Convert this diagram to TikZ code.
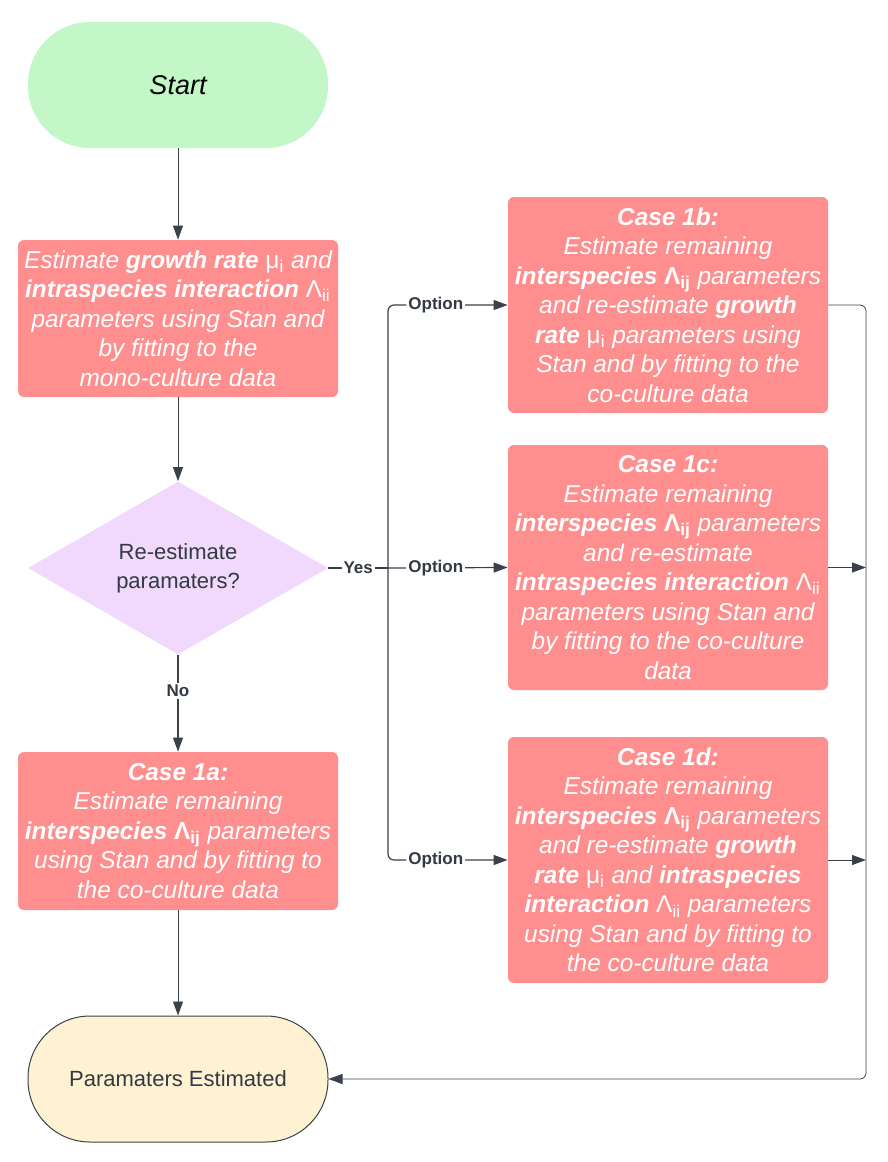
\documentclass[tikz,border=0pt]{standalone}
\usepackage{fontspec}
\setmainfont{Liberation Sans}
\usepackage{tikz}
\usetikzlibrary{arrows.meta}
\usetikzlibrary{shapes.geometric}

\definecolor{boxred}{HTML}{FF8E8E}
\definecolor{startgreen}{HTML}{C3F7C8}
\definecolor{dialilac}{HTML}{F0D9FC}
\definecolor{endcream}{HTML}{FFF2D3}
\definecolor{linegray}{HTML}{3A414A}

\newcommand{\mui}{{\upshape μ\textsubscript{i}}}
\newcommand{\lamii}{{\upshape Λ\textsubscript{ii}}}
\newcommand{\lamij}{{\upshape\bfseries Λ\textsubscript{ij}}}

\begin{document}
\begin{tikzpicture}[x=0.5pt, y=-0.5pt,
        case/.style = {rectangle, rounded corners=3pt, fill=boxred, text=white, align=center,
            minimum width=160pt, inner sep=0pt, font=\fontsize{12.2}{14.75}\selectfont\itshape},
        arr/.style = {linegray, line width=0.6pt, -{Triangle[length=7pt, width=5pt]}},
        lbl/.style = {fill=white, inner sep=1pt, text=linegray!90!black, font=\fontsize{8.5}{10}\selectfont\bfseries}]
            \useasboundingbox (0,0) rectangle (888,1162);
            % left column
            \node[rectangle, rounded corners=31pt, fill=startgreen, minimum width=150pt, minimum height=63pt,
                font=\fontsize{13.5}{16}\selectfont\itshape] (start) at (178,85) {Start};
            \node[case, minimum height=78.5pt] (mono) at (178,318.5)
                {Estimate \textbf{growth rate} \mui{} and\\
                 \textbf{intraspecies interaction} \lamii\\
                 parameters using Stan and\\
                 by fitting to the\\
                 mono-culture data};
            \node[diamond, fill=dialilac, minimum width=150pt, minimum height=84pt, inner sep=0pt, align=center,
                text=linegray!90!black, font=\fontsize{11}{14.5}\selectfont] (dia) at (178,568)
                {Re-estimate\\ paramaters?};
            \node[case, minimum height=79pt] (case1a) at (178,831)
                {\textbf{Case 1a:}\\
                 Estimate remaining\\
                 \textbf{interspecies} \lamij{} parameters\\
                 using Stan and by fitting to\\
                 the co-culture data};
            \node[rectangle, rounded corners=31pt, fill=endcream, draw=linegray, line width=0.5pt,
                minimum width=150pt, minimum height=63pt, text=linegray!90!black,
                font=\fontsize{11}{14}\selectfont] (endn) at (178,1079) {Paramaters Estimated};
            % right column
            \node[case, minimum height=108pt] (case1b) at (668,305)
                {\textbf{Case 1b:}\\
                 Estimate remaining\\
                 \textbf{interspecies} \lamij{} parameters\\
                 and re-estimate \textbf{growth}\\
                 \textbf{rate} \mui{} parameters using\\
                 Stan and by fitting to the\\
                 co-culture data};
            \node[case, minimum height=122.5pt] (case1c) at (668,567.5)
                {\textbf{Case 1c:}\\
                 Estimate remaining\\
                 \textbf{interspecies} \lamij{} parameters\\
                 and re-estimate\\
                 \textbf{intraspecies interaction} \lamii\\
                 parameters using Stan and\\
                 by fitting to the co-culture\\
                 data};
            \node[case, minimum height=123pt] (case1d) at (668,860)
                {\textbf{Case 1d:}\\
                 Estimate remaining\\
                 \textbf{interspecies} \lamij{} parameters\\
                 and re-estimate \textbf{growth}\\
                 \textbf{rate} \mui{} and \textbf{intraspecies}\\
                 \textbf{interaction} \lamii{} parameters\\
                 using Stan and by fitting to\\
                 the co-culture data};
            \coordinate (jn) at (388,568);
            \coordinate (rb) at (866,1079);
            % connectors
            \draw[arr, line width=0.4pt] (start) -- (mono);
            \draw[arr, line width=0.4pt] (mono) -- (dia);
            \draw[arr] (dia) -- node[lbl, pos=0.37] {No} (case1a);
            \draw[arr, line width=0.4pt] (case1a) -- (endn);
            \draw[linegray, line width=0.6pt] (dia.east) -- node[lbl] {Yes} (jn);
            \draw[arr, rounded corners=3pt] (jn) |- node[lbl, pos=0.7] {Option} (case1b.west);
            \draw[arr] (jn) -- node[lbl, pos=0.4] {Option} (case1c.west);
            \draw[arr, rounded corners=3pt] (jn) |- node[lbl, pos=0.7] {Option} (case1d.west);
            \draw[arr, line width=0.4pt, rounded corners=3pt] (case1b.east) -| (rb) -- (endn.east);
            \draw[arr, line width=0.4pt] (case1c.east) -- (case1c.east -| rb);
            \draw[arr, line width=0.4pt] (case1d.east) -- (case1d.east -| rb);
        \end{tikzpicture}
\end{document}
